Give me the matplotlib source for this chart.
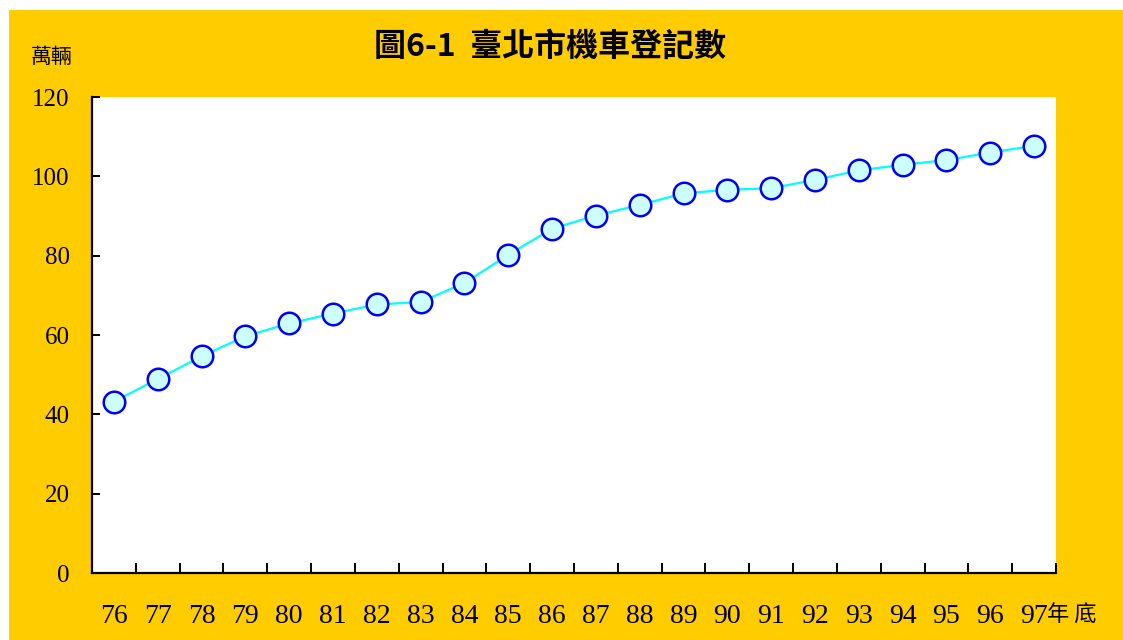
import matplotlib
matplotlib.use("Agg")
import matplotlib.pyplot as plt
from matplotlib.patches import Rectangle
import numpy as np

# Taipei registered motorcycles, ten-thousand units, year-end (ROC years)
years = ["76", "77", "78", "79", "80", "81", "82", "83", "84", "85", "86",
         "87", "88", "89", "90", "91", "92", "93", "94", "95", "96", "97"]
motorcycles = [43.2, 48.9, 54.6, 59.7, 62.9, 65.4, 67.7, 68.3, 73.1, 80.2, 86.8,
               90.1, 92.8, 95.7, 96.6, 97.0, 99.1, 101.5, 102.9, 104.1, 106.0, 107.7]
y_ticks = [0, 20, 40, 60, 80, 100, 120]

CJK = ["Noto Sans CJK TC", "DejaVu Sans"]
SERIF = ["Liberation Serif", "DejaVu Serif"]
W, H = 1123, 640

fig = plt.figure(figsize=(W / 100, H / 100), dpi=100, facecolor="white")
fig.patches.append(Rectangle((9 / W, 0), 1, (H - 10) / H, transform=fig.transFigure,
                             facecolor="#FFCC00", edgecolor="none", zorder=-10))

ax = fig.add_axes([92 / W, 1 - 573 / H, (1056 - 92) / W, (573 - 97) / H])
ax.set_facecolor("white")

x = np.arange(len(years))
ax.plot(x, motorcycles, color="#00FFFF", lw=1.6, marker="o", ms=15.5,
        mfc="#CCFFFF", mec="#0000FF", mew=1.8, zorder=3, clip_on=False)

ax.set_xlim(-0.5, len(years) - 0.5)
ax.set_ylim(0, 120)

for side in ("top", "right"):
    ax.spines[side].set_visible(False)
for side in ("left", "bottom"):
    ax.spines[side].set_linewidth(1.6)
    ax.spines[side].set_color("black")

# category labels centred, tick marks on category boundaries
ax.set_xticks(x)
ax.set_xticklabels(years, fontfamily=SERIF, fontsize=20)
ax.set_xticks(np.arange(0.5, len(years)), minor=True)
ax.tick_params(axis="x", which="major", length=0, pad=22)
ax.tick_params(axis="x", which="minor", direction="in", length=7, width=1.4)

ax.set_yticks(y_ticks)
ax.set_yticklabels([str(v) for v in y_ticks], fontfamily=SERIF, fontsize=18)
ax.tick_params(axis="y", direction="in", length=6, width=1.4, pad=16)

fig.text(550 / W, 1 - 47 / H, "圖6-1  臺北市機車登記數", family=CJK, fontsize=23,
         fontweight="bold", ha="center", va="center")
fig.text(52 / W, 1 - 57 / H, "萬輛", family=CJK, fontsize=15, ha="center", va="center")
fig.text(1047 / W, 1 - 615 / H, "年 底", family=CJK, fontsize=16, ha="left", va="center")

fig.savefig("out.png", dpi=100, facecolor=fig.get_facecolor())
